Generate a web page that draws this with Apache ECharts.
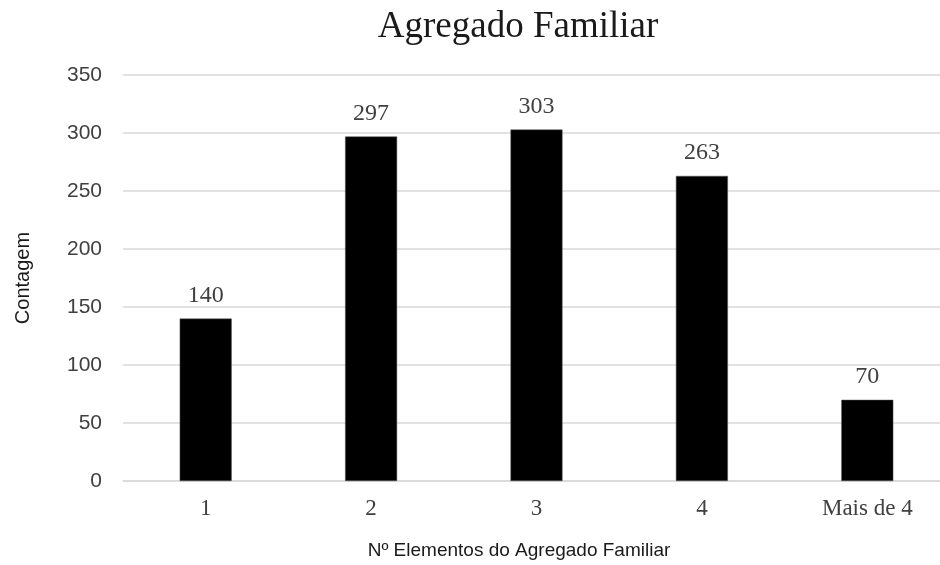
<!DOCTYPE html>
<html>
<head>
<meta charset="utf-8">
<title>Agregado Familiar</title>
<script src="https://cdn.jsdelivr.net/npm/echarts@6/dist/echarts.min.js"></script>
<style>
  html, body { margin: 0; padding: 0; background: #ffffff; overflow: hidden; }
  /* canvas is a bit wider than the window so the last category band runs past the edge */
  #chart { width: 950px; height: 565px; }
</style>
</head>
<body>
<div id="chart"></div>
<script>
// Household size categories and respondent counts
const categories = ['1', '2', '3', '4', 'Mais de 4'];
const counts = [140, 297, 303, 263, 70];
const yTicks = { min: 0, max: 350, interval: 50 };

const serif = '"Liberation Serif", "DejaVu Serif", serif';
const sans = '"Liberation Sans", Arial, sans-serif';
const gridColor = '#d9d9d9';

const chart = echarts.init(document.getElementById('chart'), null, { renderer: 'canvas' });

chart.setOption({
  backgroundColor: '#ffffff',
  animation: false,
  title: {
    text: 'Agregado Familiar',
    left: 513,
    top: 4,
    textAlign: 'center',
    textStyle: { fontFamily: serif, fontSize: 37, fontWeight: 'normal', color: '#1a1a1a' }
  },
  grid: { left: 123, right: 0, top: 75, bottom: 84, containLabel: false },
  xAxis: {
    type: 'category',
    data: categories,
    name: 'Nº Elementos do Agregado Familiar',
    nameLocation: 'middle',
    nameGap: 60,
    nameTextStyle: { fontFamily: sans, fontSize: 19, color: '#1a1a1a', padding: [0, 35, 0, 0] },
    axisLine: { show: true, lineStyle: { color: gridColor, width: 1.5 } },
    axisTick: { show: false },
    axisLabel: { fontFamily: serif, fontSize: 23, color: '#404040', margin: 16 }
  },
  yAxis: {
    type: 'value',
    min: yTicks.min,
    max: yTicks.max,
    interval: yTicks.interval,
    name: 'Contagem',
    nameLocation: 'middle',
    nameGap: 90,
    nameRotate: 90,
    nameTextStyle: { fontFamily: sans, fontSize: 20, color: '#1a1a1a' },
    axisLine: { show: false },
    axisTick: { show: false },
    axisLabel: { fontFamily: sans, fontSize: 21, color: '#404040', margin: 21 },
    splitLine: { lineStyle: { color: gridColor, width: 1.5 } }
  },
  series: [{
    type: 'bar',
    data: counts,
    barWidth: 52,
    itemStyle: { color: '#000000', borderColor: '#595959', borderWidth: 0.5 },
    label: {
      show: true,
      position: 'top',
      distance: 11,
      fontFamily: serif,
      fontSize: 24,
      color: '#404040'
    }
  }]
});
</script>
</body>
</html>
